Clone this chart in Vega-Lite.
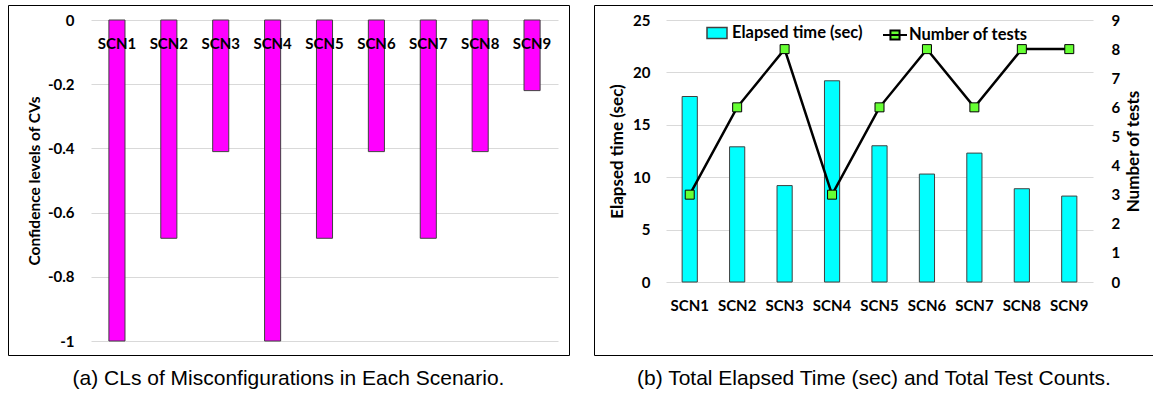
{
  "$schema": "https://vega.github.io/schema/vega-lite/v6.json",
  "padding": {"left": 7, "top": 4, "right": 0, "bottom": 0},
  "autosize": {"type": "pad"},
  "background": "#ffffff",
  "config": {
    "view": {"stroke": "#000000", "strokeWidth": 1},
    "font": "Lato",
    "axis": {
      "labelFont": "Lato", "labelFontWeight": "bold", "labelFontSize": 15, "labelColor": "#000000",
      "titleFont": "Lato", "titleFontWeight": "bold", "titleColor": "#000000",
      "domain": false, "ticks": false, "gridColor": "#d9d9d9", "gridWidth": 1, "labelPadding": 0
    },
    "title": {"font": "Liberation Sans", "fontSize": 21, "fontWeight": "normal", "color": "#000000", "orient": "bottom", "anchor": "middle", "offset": 13},
    "concat": {"spacing": 23}
  },
  "hconcat": [
    {
      "width": 561,
      "height": 350,
      "title": {"text": "(a) CLs of Misconfigurations in Each Scenario."},
      "data": {"values": [
        {"scenario": "SCN1", "cl": -1},
        {"scenario": "SCN2", "cl": -0.68},
        {"scenario": "SCN3", "cl": -0.41},
        {"scenario": "SCN4", "cl": -1},
        {"scenario": "SCN5", "cl": -0.68},
        {"scenario": "SCN6", "cl": -0.41},
        {"scenario": "SCN7", "cl": -0.68},
        {"scenario": "SCN8", "cl": -0.41},
        {"scenario": "SCN9", "cl": -0.22}
      ]},
      "mark": {"type": "bar", "fill": "#ff00ff", "stroke": "#404040", "strokeWidth": 1},
      "encoding": {
        "x": {
          "field": "scenario", "type": "nominal", "sort": null,
          "scale": {"range": [83, 550], "paddingInner": 0.69, "paddingOuter": 0.345},
          "axis": {"orient": "top", "offset": -38, "labelBaseline": "middle", "labelAngle": 0, "title": null, "grid": false, "zindex": 1}
        },
        "y": {
          "field": "cl", "type": "quantitative",
          "scale": {"domain": [-1, 0], "range": [336, 15], "nice": false, "zero": false},
          "axis": {
            "values": [-1, -0.8, -0.6, -0.4, -0.2, 0], "offset": -66, "grid": true,
            "title": "Confidence levels of CVs", "titleFontSize": 15.5, "titlePadding": 5,
            "labelExpr": "datum.value < 0 ? '-' + format(-datum.value, '~g') : format(datum.value, '~g')"
          }
        }
      }
    },
    {
      "width": 560,
      "height": 350,
      "title": {"text": "(b) Total Elapsed Time (sec) and Total Test Counts."},
      "data": {"values": [
        {"scenario": "SCN1", "time": 17.7, "tests": 3},
        {"scenario": "SCN2", "time": 12.9, "tests": 6},
        {"scenario": "SCN3", "time": 9.2, "tests": 8},
        {"scenario": "SCN4", "time": 19.2, "tests": 3},
        {"scenario": "SCN5", "time": 13.0, "tests": 6},
        {"scenario": "SCN6", "time": 10.3, "tests": 8},
        {"scenario": "SCN7", "time": 12.3, "tests": 6},
        {"scenario": "SCN8", "time": 8.9, "tests": 8},
        {"scenario": "SCN9", "time": 8.2, "tests": 8}
      ]},
      "layer": [
        {
          "mark": {"type": "bar", "stroke": "#404040", "strokeWidth": 1},
          "encoding": {
            "x": {
              "field": "scenario", "type": "nominal", "sort": null,
              "scale": {"range": [72, 499], "paddingInner": 0.68, "paddingOuter": 0.34},
              "axis": {"orient": "bottom", "offset": -50, "labelBaseline": "middle", "labelAngle": 0, "title": null, "grid": false}
            },
            "y": {
              "field": "time", "type": "quantitative",
              "scale": {"domain": [0, 25], "range": [277, 15], "nice": false},
              "axis": {"values": [0, 5, 10, 15, 20, 25], "offset": -56, "grid": true, "title": "Elapsed time (sec)", "titleFontSize": 17, "titlePadding": 6}
            },
            "fill": {
              "datum": "Elapsed time (sec)", "type": "nominal",
              "scale": {"range": ["#00ffff"]},
              "legend": {
                "orient": "none", "legendX": 112, "legendY": 17, "title": null, "padding": 0,
                "symbolType": "M-1,-0.55H1V0.55H-1Z", "symbolSize": 400,
                "labelFont": "Lato", "labelFontWeight": "bold", "labelFontSize": 16.5, "labelColor": "#000000", "labelOffset": 4,
                "encode": {"symbols": {"update": {"stroke": {"value": "#404040"}, "strokeWidth": {"value": 1}, "fill": {"value": "#00ffff"}}}}
              }
            }
          }
        },
        {
          "mark": {"type": "line", "strokeWidth": 2.5, "point": {"shape": "square", "filled": true, "fill": "#66ff33", "stroke": "#333333", "strokeWidth": 1, "size": 81}},
          "encoding": {
            "x": {"field": "scenario", "type": "nominal", "sort": null},
            "y": {
              "field": "tests", "type": "quantitative",
              "scale": {"domain": [0, 9], "range": [277, 15], "nice": false},
              "axis": {"orient": "right", "values": [0, 1, 2, 3, 4, 5, 6, 7, 8, 9], "offset": -43, "grid": false, "title": "Number of tests", "titleFontSize": 17, "titleAngle": -90, "titleBaseline": "top", "titlePadding": 6}
            },
            "stroke": {
              "datum": "Number of tests", "type": "nominal",
              "scale": {"range": ["#000000"]},
              "legend": {
                "orient": "none", "legendX": 288, "legendY": 17, "title": null, "padding": 0,
                "symbolType": "M-1,0H1M-0.38,-0.38H0.38V0.38H-0.38Z", "symbolSize": 576,
                "labelFont": "Lato", "labelFontWeight": "bold", "labelFontSize": 16.5, "labelColor": "#000000", "labelOffset": 1,
                "encode": {"symbols": {"update": {"stroke": {"value": "#000000"}, "strokeWidth": {"value": 2}, "fill": {"value": "#66ff33"}}}}
              }
            }
          }
        }
      ],
      "resolve": {"scale": {"y": "independent", "fill": "independent", "stroke": "independent"}}
    }
  ]
}
